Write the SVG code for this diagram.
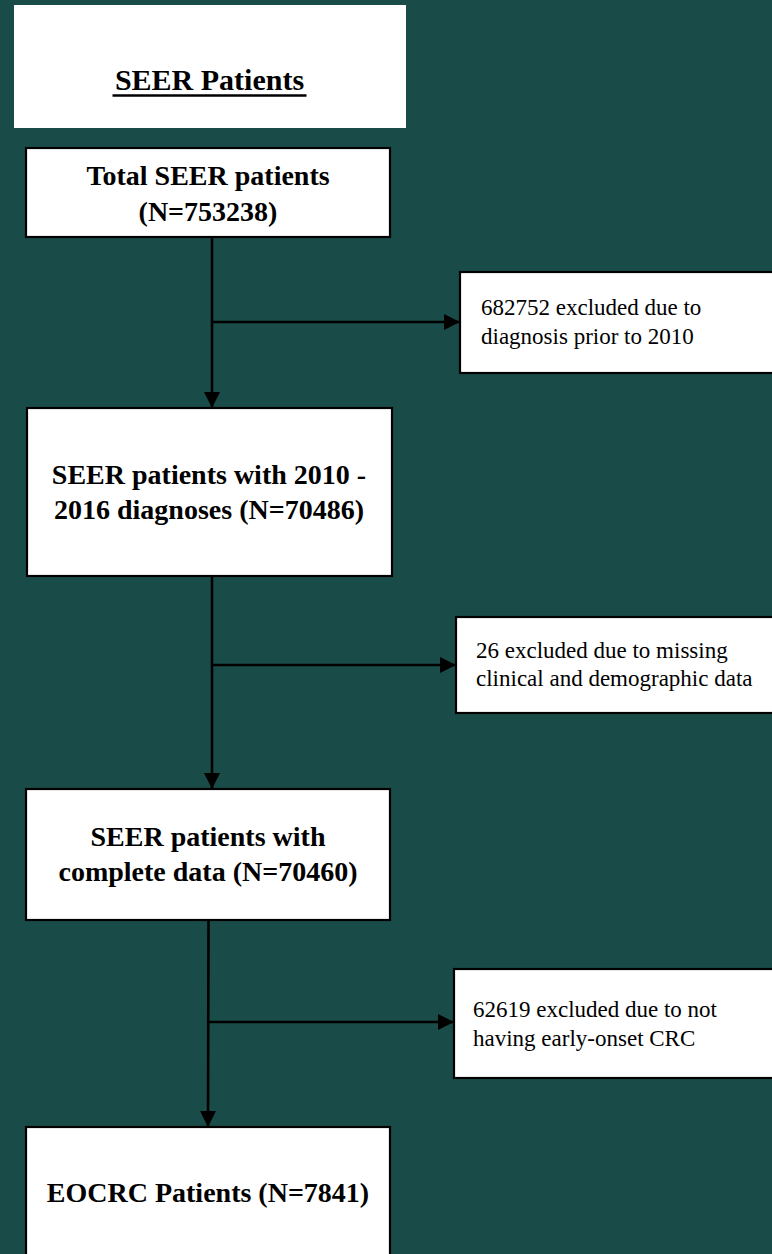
<svg xmlns="http://www.w3.org/2000/svg" width="772" height="1254" viewBox="0 0 772 1254">
  <defs>
    <style>
      .bg { fill: #194c49; }
      .box { fill: #ffffff; stroke: #000000; stroke-width: 2.2; }
      .title-box { fill: #ffffff; }
      .main { font-family: "Liberation Serif", "Times New Roman", serif; font-weight: bold; font-size: 28px; fill: #000000; text-anchor: middle; }
      .title { font-family: "Liberation Serif", "Times New Roman", serif; font-weight: bold; font-size: 30px; fill: #000000; text-anchor: middle; }
      .side { font-family: "Liberation Serif", "Times New Roman", serif; font-size: 23px; fill: #000000; }
      .conn { stroke: #000000; stroke-width: 2.6; fill: none; }
    </style>
    <marker id="arrow" markerUnits="userSpaceOnUse" markerWidth="16" markerHeight="16" viewBox="0 0 16 16" refX="16" refY="8" orient="auto">
      <path d="M0,0 L16,8 L0,16 Z" fill="#000000"/>
    </marker>
  </defs>

  <rect class="bg" x="0" y="0" width="772" height="1254"/>

  <g id="title">
    <rect class="title-box" x="14" y="5" width="392" height="123"/>
    <text class="title" x="209.5" y="90">SEER Patients</text>
    <line x1="112.5" y1="95.5" x2="306.5" y2="95.5" stroke="#000000" stroke-width="2.6"/>
  </g>

  <g id="connectors">
    <line class="conn" x1="212" y1="237" x2="212" y2="408" marker-end="url(#arrow)"/>
    <line class="conn" x1="212" y1="322" x2="460" y2="322" marker-end="url(#arrow)"/>
    <line class="conn" x1="212" y1="576" x2="212" y2="789" marker-end="url(#arrow)"/>
    <line class="conn" x1="212" y1="665" x2="456" y2="665" marker-end="url(#arrow)"/>
    <line class="conn" x1="208.5" y1="920" x2="208" y2="1127" marker-end="url(#arrow)"/>
    <line class="conn" x1="208.5" y1="1022" x2="454" y2="1022" marker-end="url(#arrow)"/>
  </g>

  <g id="node-total">
    <rect class="box" x="26" y="148" width="364" height="89"/>
    <text class="main" x="208" y="185">Total SEER patients</text>
    <text class="main" x="208" y="221">(N=753238)</text>
  </g>

  <g id="node-excl1">
    <rect class="box" x="460" y="272" width="316" height="101"/>
    <text class="side" x="481" y="315">682752 excluded due to</text>
    <text class="side" x="481" y="344">diagnosis prior to 2010</text>
  </g>

  <g id="node-2010">
    <rect class="box" x="27" y="408" width="365" height="168"/>
    <text class="main" x="209" y="484">SEER patients with 2010 -</text>
    <text class="main" x="209" y="519">2016 diagnoses (N=70486)</text>
  </g>

  <g id="node-excl2">
    <rect class="box" x="456" y="617" width="320" height="96"/>
    <text class="side" x="476" y="658">26 excluded due to missing</text>
    <text class="side" x="476" y="686">clinical and demographic data</text>
  </g>

  <g id="node-complete">
    <rect class="box" x="26" y="789" width="364" height="131"/>
    <text class="main" x="208" y="846">SEER patients with</text>
    <text class="main" x="208" y="881">complete data (N=70460)</text>
  </g>

  <g id="node-excl3">
    <rect class="box" x="454" y="969" width="322" height="109"/>
    <text class="side" x="473" y="1017">62619 excluded due to not</text>
    <text class="side" x="473" y="1046">having early-onset CRC</text>
  </g>

  <g id="node-eocrc">
    <rect class="box" x="26" y="1127" width="364" height="140"/>
    <text class="main" x="208" y="1202">EOCRC Patients (N=7841)</text>
  </g>
</svg>
